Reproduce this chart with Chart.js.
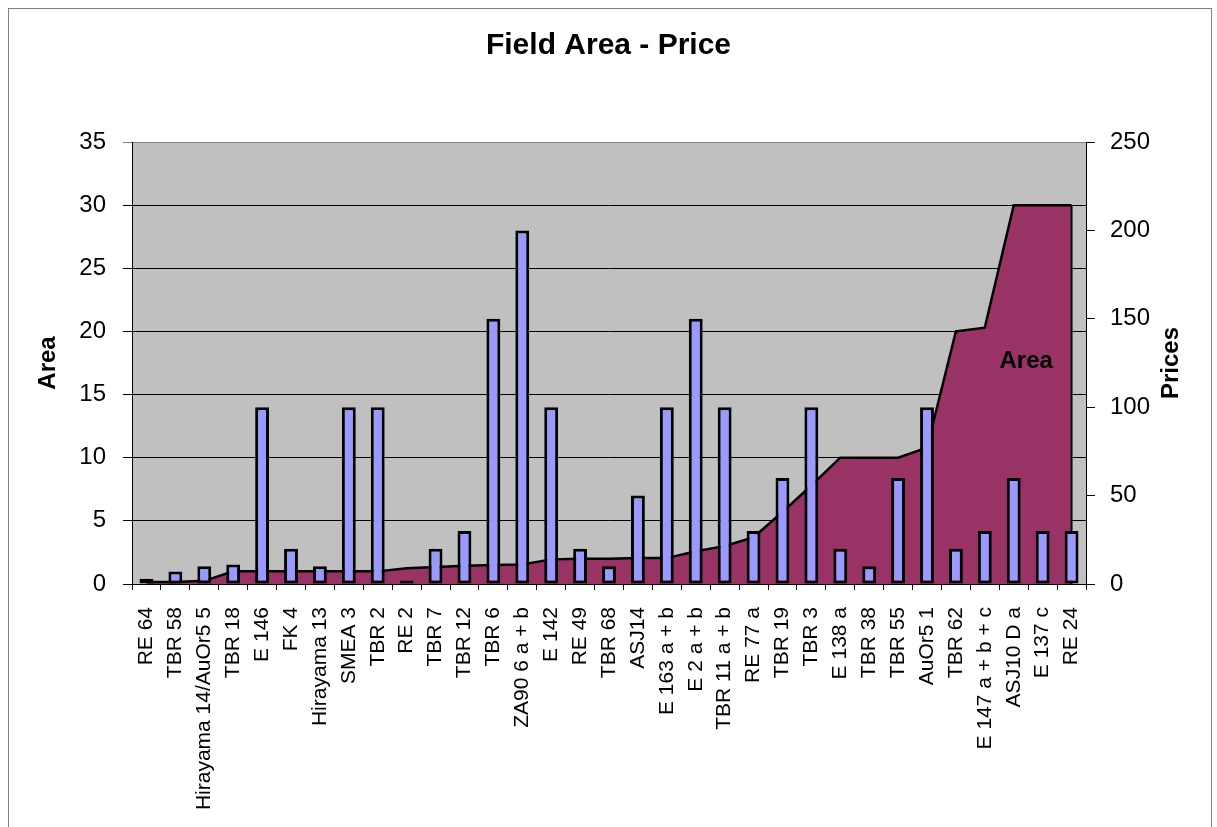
<!DOCTYPE html>
<html>
<head>
<meta charset="utf-8">
<title>Field Area - Price</title>
<script src="https://cdn.jsdelivr.net/npm/chart.js@4.4.1/dist/chart.umd.min.js"></script>
<style>
    body { margin: 0; background: #ffffff; }
    canvas { display: block; }
</style>
</head>
<body>
<canvas id="fieldChart" width="1217" height="827"></canvas>
<script>
    // Field names, in the order they appear on the x axis
    const fields = ['RE 64', 'TBR 58', 'Hirayama 14/AuOr5 5', 'TBR 18', 'E 146', 'FK 4', 'Hirayama 13', 'SMEA 3',
        'TBR 2', 'RE 2', 'TBR 7', 'TBR 12', 'TBR 6', 'ZA90 6 a + b', 'E 142', 'RE 49', 'TBR 68', 'ASJ14',
        'E 163 a + b', 'E 2 a + b', 'TBR 11 a + b', 'RE 77 a', 'TBR 19', 'TBR 3', 'E 138 a', 'TBR 38', 'TBR 55',
        'AuOr5 1', 'TBR 62', 'E 147 a + b + c', 'ASJ10 D a', 'E 137 c', 'RE 24'];

    // Area (left axis)
    const areaValues = [0.15, 0.15, 0.25, 1, 1, 1, 1, 1,
        1, 1.25, 1.35, 1.45, 1.5, 1.55, 1.95, 2, 2, 2.05,
        2.05, 2.6, 3, 3.7, 5.7, 7.8, 10, 10, 10,
        10.8, 20, 20.3, 30, 30, 30];

    // Prices (right axis)
    const priceValues = [3, 7, 10, 11, 100, 20, 10, 100,
        100, 2, 20, 30, 150, 200, 100, 20, 10, 50,
        100, 150, 100, 30, 60, 100, 20, 10, 60,
        100, 20, 30, 60, 30, 30];

    const areaAxis = { min: 0, max: 35, step: 5 };
    const priceAxis = { min: 0, max: 250, step: 50 };

    const fontFamily = "'Liberation Sans', Arial, sans-serif";

    // Gray plot background and the outer frame
    const plotBackground = {
        id: 'plotBackground',
        beforeDraw(chart) {
            const ctx = chart.ctx;
            const area = chart.chartArea;
            ctx.save();
            ctx.fillStyle = '#ffffff';
            ctx.fillRect(0, 0, chart.width, chart.height);
            ctx.strokeStyle = '#808080';
            ctx.lineWidth = 1;
            ctx.strokeRect(8.5, 8.5, chart.width - 14, chart.height + 20);
            ctx.fillStyle = '#c0c0c0';
            ctx.fillRect(area.left, area.top, area.right - area.left, area.bottom - area.top);
            ctx.restore();
        }
    };

    // Closing edge of the area series on the right, like Excel draws it
    const areaEdge = {
        id: 'areaEdge',
        afterDatasetDraw(chart, args) {
            if (args.index !== 1) return;
            const points = args.meta.data;
            const last = points[points.length - 1];
            const ctx = chart.ctx;
            ctx.save();
            ctx.strokeStyle = '#000000';
            ctx.lineWidth = 2;
            ctx.beginPath();
            ctx.moveTo(last.x, last.y);
            ctx.lineTo(last.x, chart.chartArea.bottom);
            ctx.stroke();
            ctx.restore();
        }
    };

    // "Area" series label inside the fill, and the right axis title read bottom-up
    const chartLabels = {
        id: 'chartLabels',
        afterDatasetsDraw(chart) {
            const ctx = chart.ctx;
            const x = chart.scales.x.getPixelForValue(30.43);
            const y = chart.scales.y.getPixelForValue(17.6);
            ctx.save();
            ctx.font = "bold 24px " + fontFamily;
            ctx.fillStyle = '#000000';
            ctx.textAlign = 'center';
            ctx.textBaseline = 'middle';
            ctx.fillText('Area', x, y);

            const right = chart.scales.y1.right;
            const mid = (chart.chartArea.top + chart.chartArea.bottom) / 2;
            ctx.translate(right - 46, mid);
            ctx.rotate(-Math.PI / 2);
            ctx.fillText('Prices', 0, 0);
            ctx.restore();
        }
    };

    function initializeChart() {
        const ctx = document.getElementById('fieldChart').getContext('2d');
        const fieldChart = new Chart(ctx, {
            data: {
                labels: fields,
                datasets: [{
                    type: 'bar',
                    label: 'Prices',
                    data: priceValues,
                    yAxisID: 'y1',
                    backgroundColor: '#9999ff',
                    borderColor: '#000000',
                    borderWidth: 3,
                    borderSkipped: false,
                    categoryPercentage: 1,
                    barPercentage: 0.48,
                    order: 0
                }, {
                    type: 'line',
                    label: 'Area',
                    data: areaValues,
                    yAxisID: 'y',
                    fill: 'origin',
                    backgroundColor: '#993366',
                    borderColor: '#000000',
                    borderWidth: 2.5,
                    pointRadius: 0,
                    tension: 0,
                    order: 1
                }]
            },
            options: {
                responsive: false,
                animation: false,
                layout: {
                    padding: 0
                },
                plugins: {
                    legend: {
                        display: false
                    },
                    tooltip: {
                        enabled: false
                    },
                    title: {
                        display: true,
                        text: 'Field Area - Price',
                        color: '#000000',
                        font: { family: fontFamily, size: 30, weight: 'bold' },
                        padding: { top: 28, bottom: 78 }
                    }
                },
                scales: {
                    x: {
                        offset: true,
                        afterFit(scale) { scale.height = 243; },
                        grid: {
                            offset: true,
                            drawOnChartArea: false,
                            drawTicks: true,
                            tickLength: 6,
                            color: '#000000'
                        },
                        border: { color: '#000000', width: 1 },
                        ticks: {
                            autoSkip: false,
                            maxRotation: 90,
                            minRotation: 90,
                            padding: 17,
                            color: '#000000',
                            font: { family: fontFamily, size: 21 }
                        }
                    },
                    y: {
                        position: 'left',
                        min: areaAxis.min,
                        max: areaAxis.max,
                        afterFit(scale) { scale.width = 132; },
                        grid: {
                            color: (c) => (c.tick && c.tick.value === areaAxis.max ? '#808080' : '#000000'),
                            lineWidth: 1,
                            tickLength: 9
                        },
                        border: { color: '#000000', width: 1 },
                        ticks: {
                            stepSize: areaAxis.step,
                            padding: 17,
                            color: '#000000',
                            font: { family: fontFamily, size: 24 }
                        },
                        title: {
                            display: true,
                            text: 'Area',
                            color: '#000000',
                            padding: { top: 34, bottom: 0 },
                            font: { family: fontFamily, size: 24, weight: 'bold' }
                        }
                    },
                    y1: {
                        position: 'right',
                        min: priceAxis.min,
                        max: priceAxis.max,
                        afterFit(scale) { scale.width = 131; },
                        grid: {
                            drawOnChartArea: false,
                            color: '#000000',
                            tickLength: 9
                        },
                        border: { color: '#000000', width: 1 },
                        ticks: {
                            stepSize: priceAxis.step,
                            padding: 15,
                            color: '#000000',
                            font: { family: fontFamily, size: 24 }
                        }
                    }
                }
            },
            plugins: [plotBackground, areaEdge, chartLabels]
        });
        return fieldChart;
    }

    document.addEventListener('DOMContentLoaded', function () {
        initializeChart();
    });
</script>
</body>
</html>
